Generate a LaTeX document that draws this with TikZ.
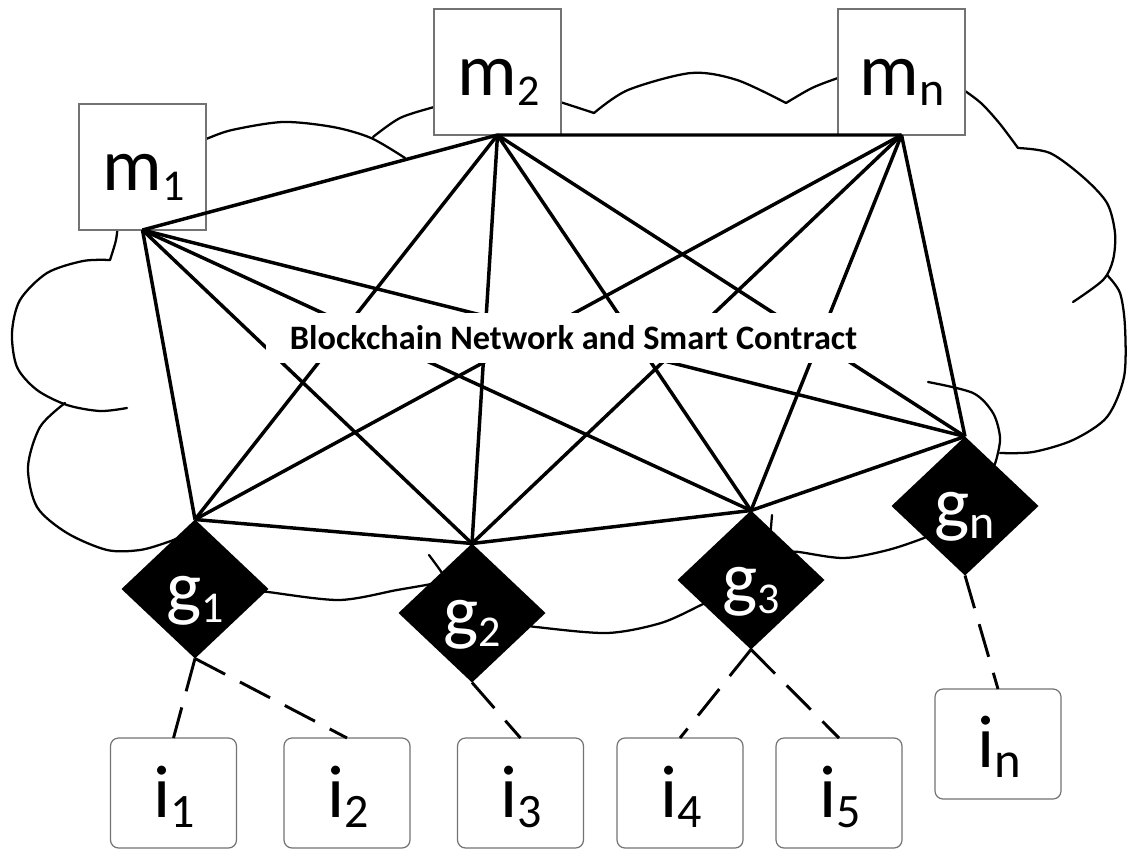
\documentclass[tikz,border=0pt]{standalone}
\usepackage{fontspec}
\setmainfont{Carlito}
\usetikzlibrary{shapes.geometric}
% lowered, smaller index set after a label letter: {size}{text}
\newcommand\lowidx[2]{\raisebox{-8pt}{\fontsize{#1}{#1}\selectfont #2}}
\begin{document}
\begin{tikzpicture}[x=0.75pt,y=-0.75pt,
  mbox/.style={draw=black!55, line width=0.9pt, fill=white, minimum width=95.25pt,
    minimum height=94.5pt, inner sep=0pt, outer sep=0pt},
  ibox/.style={draw=black!55, line width=0.9pt, fill=white, rounded corners=6pt,
    minimum width=94.5pt, minimum height=82.5pt, inner sep=0pt, outer sep=0pt},
  gdiam/.style={diamond, fill=black, minimum width=110.25pt, minimum height=104.25pt,
    inner sep=0pt, outer sep=0pt},
  biglabel/.style={font=\fontsize{56}{56}\selectfont, inner sep=0pt, anchor=base},
  link/.style={line width=2.6pt},
  dlink/.style={line width=2.2pt, dash pattern=on 25.5pt off 12.5pt},
  cloudline/.style={line width=1.7pt, line cap=round},
  banner/.style={fill=white, font=\bfseries\fontsize{25.7}{25.7}\selectfont,
    minimum width=461.25pt, minimum height=37.5pt, inner sep=0pt},
]
\useasboundingbox (0,0) rectangle (1127,849);

% ---- cloud outline (arcs meeting at cusps) ----
\draw[cloudline] plot[smooth] coordinates {(118,222) (116,240) (110,260)};
\draw[cloudline] plot[smooth] coordinates {(110,260) (83,261) (47,273) (20,300) (12,333) (17,367) (37,390) (67,405) (100,411) (127,408)};
\draw[cloudline] plot[smooth] coordinates {(65,403) (40,427) (28,467) (37,507) (67,533) (107,550) (140,550) (168,542) (185,535)};
\draw[cloudline] plot[smooth] coordinates {(200,141) (206,139) (232,130) (283,122) (333,127) (371,138) (405,158)};
\draw[cloudline] plot[smooth] coordinates {(373,137) (400,118) (434,107) (445,104)};
\draw[cloudline] plot[smooth] coordinates {(550,100) (560,102) (594,113)};
\draw[cloudline] plot[smooth] coordinates {(594,113) (628,90) (691,73) (737,80) (786,103)};
\draw[cloudline] plot[smooth] coordinates {(786,103) (812,88) (838,78) (850,75)};
\draw[cloudline] plot[smooth] coordinates {(955,86) (965,91) (982,104) (1000,124) (1018,148)};
\draw[cloudline] plot[smooth] coordinates {(1018,148) (1050,153) (1083,177) (1107,203) (1115,233) (1113,260) (1103,280) (1073,302)};
\draw[cloudline] plot[smooth] coordinates {(1107,275) (1120,293) (1125,327) (1124,377) (1107,417) (1073,440) (1033,452) (1000,453)};
\draw[cloudline] plot[smooth] coordinates {(928,382) (973,393) (993,413) (1000,437) (997,457) (992,472)};
\draw[cloudline] plot[smooth] coordinates {(790,552) (799,552) (844,558) (888,550) (924,538) (932,533)};
\draw[cloudline] plot[smooth] coordinates {(528,625) (536,627) (607,633) (661,623) (701,605) (710,600)};
\draw[cloudline] plot[smooth] coordinates {(262,592) (268,592) (339,600) (397,590) (426,585) (435,583)};
\draw[cloudline] plot[smooth] coordinates {(429,555) (440,570) (446,580)};
\draw[cloudline] plot[smooth] coordinates {(772,515) (771,527) (770,537)};

% ---- manager boxes ----
\node[mbox] (m1) at (142.5,167) {};
\node[mbox] (m2) at (497.5,72) {};
\node[mbox] (mn) at (901.5,72) {};

% ---- gateway diamonds ----
\node[gdiam] (g1) at (195,589) {};
\node[gdiam] (g2) at (472,613) {};
\node[gdiam] (g3) at (751,580) {};
\node[gdiam] (gn) at (965,506) {};

% ---- blockchain links ----
\foreach \m in {m1,m2,mn}
  \foreach \g in {g1,g2,g3,gn}
    \draw[link] (\m.south) -- (\g.north);
\draw[link] (m1.south) -- (m2.south) -- (mn.south);
\draw[link] (g1.north) -- (g2.north) -- (g3.north) -- (gn.north);

\node[banner] (bc) at (573.5,338) {Blockchain Network and Smart Contract};

% ---- labels ----
\node[biglabel] (m1t) at (143.5,190) {m\lowidx{33}{1}};
\node[biglabel] (m2t) at (498.5,95) {m\lowidx{33}{2}};
\node[biglabel] (mnt) at (902,95) {m\lowidx{36}{n}};
\node[biglabel, text=white] (g1t) at (195,612) {g\lowidx{33}{1}};
\node[biglabel, text=white] (g2t) at (472,636) {g\lowidx{33}{2}};
\node[biglabel, text=white] (g3t) at (751,603) {g\lowidx{33}{3}};
\node[biglabel, text=white] (gnt) at (965,528) {g\lowidx{36}{n}};

% ---- device boxes ----
\node[ibox] (i1) at (173.5,793) {};
\node[ibox] (i2) at (347,793) {};
\node[ibox] (i3) at (520.5,793) {};
\node[ibox] (i4) at (680,793) {};
\node[ibox] (i5) at (839,793) {};
\node[ibox] (in) at (998,744) {};
\node[biglabel] (i1t) at (174.5,817) {i\lowidx{36}{1}};
\node[biglabel] (i2t) at (348,817) {i\lowidx{36}{2}};
\node[biglabel] (i3t) at (521.5,817) {i\lowidx{36}{3}};
\node[biglabel] (i4t) at (681,817) {i\lowidx{36}{4}};
\node[biglabel] (i5t) at (840,817) {i\lowidx{36}{5}};
\node[biglabel] (int) at (999,767) {i\lowidx{38}{n}};

% ---- gateway to device links ----
\draw[dlink] (g1.south) -- (i1.north);
\draw[dlink] (g1.south) -- (i2.north);
\draw[dlink] (g2.south) -- (i3.north);
\draw[dlink] (g3.south) -- (i4.north);
\draw[dlink] (g3.south) -- (i5.north);
\draw[dlink] (gn.south) -- (in.north);
\end{tikzpicture}
\end{document}
